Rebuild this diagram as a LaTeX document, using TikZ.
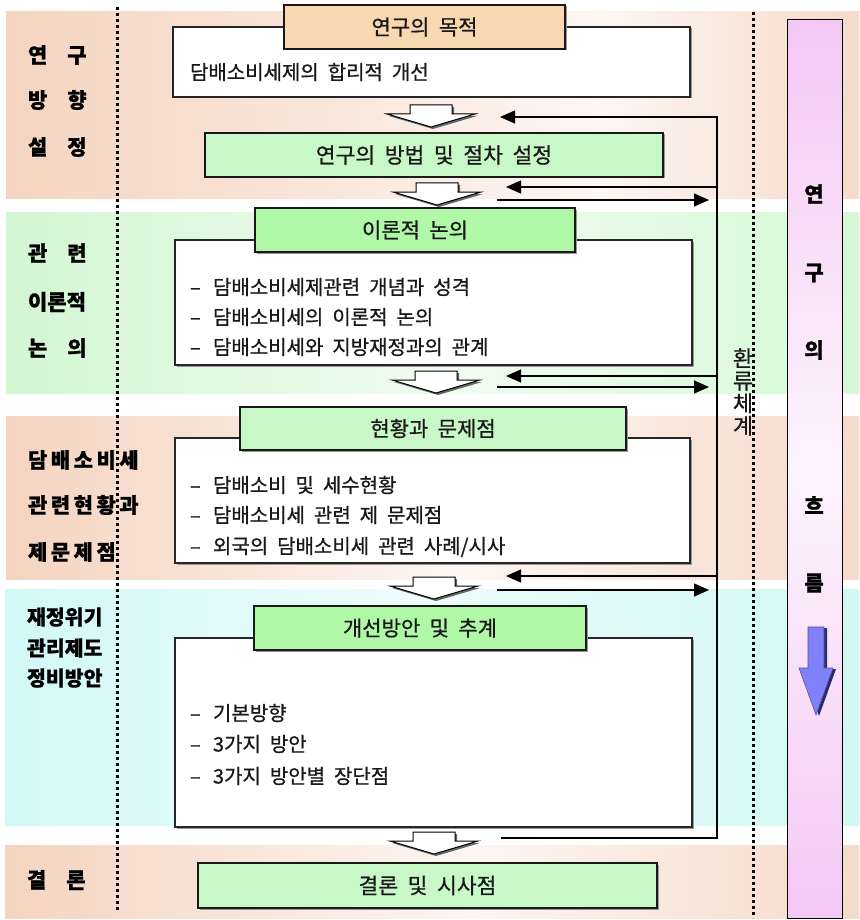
\documentclass[tikz,border=0pt]{standalone}
\usepackage{fontspec}
\newfontfamily\kr[WordSpace=2,FakeBold=0.8]{Noto Sans CJK KR}
\usetikzlibrary{arrows.meta,shadows}
\definecolor{salL}{HTML}{F4D4C0}
\definecolor{salR}{HTML}{F6DACA}
\definecolor{salW}{HTML}{FDF6F2}
\definecolor{grnL}{HTML}{D3F6D3}
\definecolor{grnR}{HTML}{D6F8D6}
\definecolor{grnW}{HTML}{F0FCF0}
\definecolor{cyaL}{HTML}{D2F8F8}
\definecolor{cyaR}{HTML}{D0F8F4}
\definecolor{cyaW}{HTML}{EEFCFC}
\definecolor{pinkE}{HTML}{F4C8F4}
\definecolor{pinkM}{HTML}{FDF4FD}
\definecolor{orangeT}{HTML}{F8D8B0}
\definecolor{greenA}{HTML}{C8F8C8}
\definecolor{greenB}{HTML}{B0F8A8}
\definecolor{blueA}{HTML}{8080F8}
\definecolor{blueS}{HTML}{2A2A70}
\begin{document}
\begin{tikzpicture}[x=1pt,y=-1pt,
  every node/.style={font=\kr\fontsize{20pt}{24pt}\selectfont, text=black!90, inner sep=0pt, outer sep=0pt},
  band/.style={draw=none},
  wbox/.style={draw=black!85, line width=1.4pt, fill=white, anchor=north west,
     drop shadow={shadow xshift=1.5pt, shadow yshift=-1.5pt, fill=black!40, opacity=1}},
  tbox/.style={draw=black!90, line width=1.6pt, anchor=north west, font=\kr\fontsize{21pt}{24pt}\selectfont,
     drop shadow={shadow xshift=1.5pt, shadow yshift=-1.5pt, fill=black!40, opacity=1}},
  mbox/.style={tbox, font=\kr\fontsize{21.5pt}{24pt}\selectfont},
  item/.style={anchor=west, font=\kr\fontsize{20pt}{24pt}\selectfont},
  lab/.style={anchor=west, font=\kr\bfseries\fontsize{21pt}{24pt}\selectfont, text=black},
  labn/.style={lab, font=\kr\bfseries\fontsize{20.5pt}{24pt}\selectfont},
  flow/.style={font=\kr\bfseries\fontsize{21pt}{24pt}\selectfont, text=black},
  fb/.style={line width=1.2pt, draw=black},
  dotline/.style={line width=2.8pt, dash pattern=on 2.8pt off 3.2pt, draw=black},
  blockdown/.pic={
    \fill[black!60, shift={(2,2)}] (-21,0) -- (21,0) -- (21,9) -- (44,9) -- (0,22) -- (-44,9) -- (-21,9) -- cycle;
    \draw[fill=white, line width=1pt] (-21,0) -- (21,0) -- (21,9) -- (44,9) -- (0,22) -- (-44,9) -- (-21,9) -- cycle;
  }
]
\useasboundingbox (0,0) rectangle (859,920);
% bands (two-part gradients with a light middle)
\path[band, left color=salL, right color=salW] (6,12) rectangle (600,198);
\path[band, left color=salW, right color=salR] (599.5,12) rectangle (859,198);
\path[band, left color=grnL, right color=grnW] (6,212) rectangle (450,393);
\path[band, left color=grnW, right color=grnR] (449.5,212) rectangle (859,393);
\path[band, left color=salL, right color=salW] (6,416) rectangle (460,579);
\path[band, left color=salW, right color=salR] (459.5,416) rectangle (859,579);
\path[band, left color=cyaL, right color=cyaW] (5,589) rectangle (400,825);
\path[band, left color=cyaW, right color=cyaR] (399.5,589) rectangle (859,825);
\path[band, left color=salL, right color=salW] (5,845) rectangle (470,918);
\path[band, left color=salW, right color=salR] (469.5,845) rectangle (859,918);

% flow bar
\node[draw=black, line width=1pt, anchor=north west, minimum width=55pt, minimum height=898pt,
      top color=pinkE, bottom color=pinkE, middle color=pinkM] (bar) at (787,20) {};
\node[flow] (f1) at (814,194) {연};
\node[flow] (f2) at (814,273) {구};
\node[flow] (f3) at (814,350) {의};
\node[flow] (f4) at (814,505) {흐};
\node[flow] (f5) at (814,583) {름};
\fill[blueS] (811,628) -- (827,628) -- (827,669) -- (836,669) -- (819,716) -- (802,669) -- (811,669) -- cycle;
\draw[fill=blueA, draw=blueS!80, line width=0.6pt] (808,627) -- (824,627) -- (824,668) -- (833,668) -- (816,715) -- (799,668) -- (808,668) -- cycle;

% feedback text (its right edge slightly hidden by the dotted line, as in the original)
\begin{scope}
  \clip (722,335) rectangle (752.5,445);
  \node[align=center, font=\kr\fontsize{22pt}{22.5pt}\selectfont] (fbt) at (743,392) {환\\류\\체\\계};
\end{scope}

% dotted lines
\coordinate (d1a) at (117.5,7); \coordinate (d1b) at (117.5,910);
\coordinate (d2a) at (753.5,12); \coordinate (d2b) at (753.5,918);
\draw[dotline] (d1a) -- (d1b);
\draw[dotline] (d2a) -- (d2b);

% left labels
\node[lab] (L1a) at (28,55) {연\hspace{20pt}구};
\node[lab] (L1b) at (28,100) {방\hspace{20pt}향};
\node[lab] (L1c) at (28,147) {설\hspace{20pt}정};
\node[lab] (L2a) at (28,253) {관\hspace{20pt}련};
\node[lab] (L2b) at (28,302) {이론적};
\node[lab] (L2c) at (28,348) {논\hspace{20pt}의};
\node[lab] (L3a) at (28,460) {담\hspace{3.5pt}배\hspace{3.5pt}소\hspace{3.5pt}비\hspace{3.5pt}세};
\node[lab] (L3b) at (28,505) {관\hspace{3.5pt}련\hspace{3.5pt}현\hspace{3.5pt}황\hspace{3.5pt}과};
\node[lab] (L3c) at (28,552) {제\hspace{3.5pt}문\hspace{3.5pt}제\hspace{3.5pt}점};
\node[labn] (L4a) at (27,617) {재정위기};
\node[labn] (L4b) at (27,648) {관리제도};
\node[labn] (L4c) at (27,678) {정비방안};
\node[lab] (L5a) at (27,880) {결\hspace{20pt}론};

% section 1
\node[wbox, minimum width=517pt, minimum height=70pt] (w1) at (173,27) {};
\node[tbox, fill=orangeT, minimum width=281pt, minimum height=44pt] (t1) at (284,5) {연구의 목적};
\node[item] (i11) at (190,72) {담배소비세제의 합리적 개선};
\node[mbox, fill=greenA, minimum width=458pt, minimum height=44pt] (t1b) at (205,133) {연구의 방법 및 절차 설정};

% section 2
\node[wbox, minimum width=517pt, minimum height=125pt] (w2) at (175,240) {};
\node[tbox, fill=greenB, minimum width=320pt, minimum height=44pt] (t2) at (255,208) {이론적 논의};
\node[item] (i21) at (190,287) {\makebox[23pt][l]{–}담배소비세제관련 개념과 성격};
\node[item] (i22) at (190,317) {\makebox[23pt][l]{–}담배소비세의 이론적 논의};
\node[item] (i23) at (190,347) {\makebox[23pt][l]{–}담배소비세와 지방재정과의 관계};

% section 3
\node[wbox, minimum width=515pt, minimum height=125pt] (w3) at (175,438) {};
\node[tbox, fill=greenA, minimum width=386pt, minimum height=43pt] (t3) at (240,407) {현황과 문제점};
\node[item] (i31) at (190,485) {\makebox[23pt][l]{–}담배소비 및 세수현황};
\node[item] (i32) at (190,515) {\makebox[23pt][l]{–}담배소비세 관련 제 문제점};
\node[item] (i33) at (190,547) {\makebox[23pt][l]{–}외국의 담배소비세 관련 사례/시사};

% section 4
\node[wbox, minimum width=517pt, minimum height=189pt] (w4) at (175,638) {};
\node[tbox, fill=greenB, minimum width=332pt, minimum height=44pt] (t4) at (254,606) {개선방안 및 추계};
\node[item] (i41) at (190,713) {\makebox[23pt][l]{–}기본방향};
\node[item] (i42) at (190,744) {\makebox[23pt][l]{–}3가지 방안};
\node[item] (i43) at (190,776) {\makebox[23pt][l]{–}3가지 방안별 장단점};

% section 5
\node[mbox, fill=greenA, minimum width=459pt, minimum height=45pt] (t5) at (198,863) {결론 및 시사점};

% block arrows
\pic at (431,105) {blockdown};
\pic at (437,183) {blockdown};
\pic at (436,371) {blockdown};
\pic at (434,577) {blockdown};
\pic at (434,832) {blockdown};

% feedback connectors
\coordinate (a1) at (500,117); \coordinate (c1) at (717,117);
\coordinate (c2) at (717,838); \coordinate (e2) at (501,838);
\draw[fb, {Triangle[length=15pt,width=13pt]}-] (a1) -- (c1) -- (c2) -- (e2);
\foreach \yl/\yr/\n in {187/200/1, 376/387/2, 576/590/3} {
  \coordinate (ls\n) at (717,\yl); \coordinate (le\n) at (506,\yl);
  \coordinate (rs\n) at (497,\yr); \coordinate (re\n) at (709,\yr);
  \draw[fb, -{Triangle[length=15pt,width=13pt]}] (ls\n) -- (le\n);
  \draw[fb, -{Triangle[length=15pt,width=13pt]}] (rs\n) -- (re\n);
}
\end{tikzpicture}
\end{document}
